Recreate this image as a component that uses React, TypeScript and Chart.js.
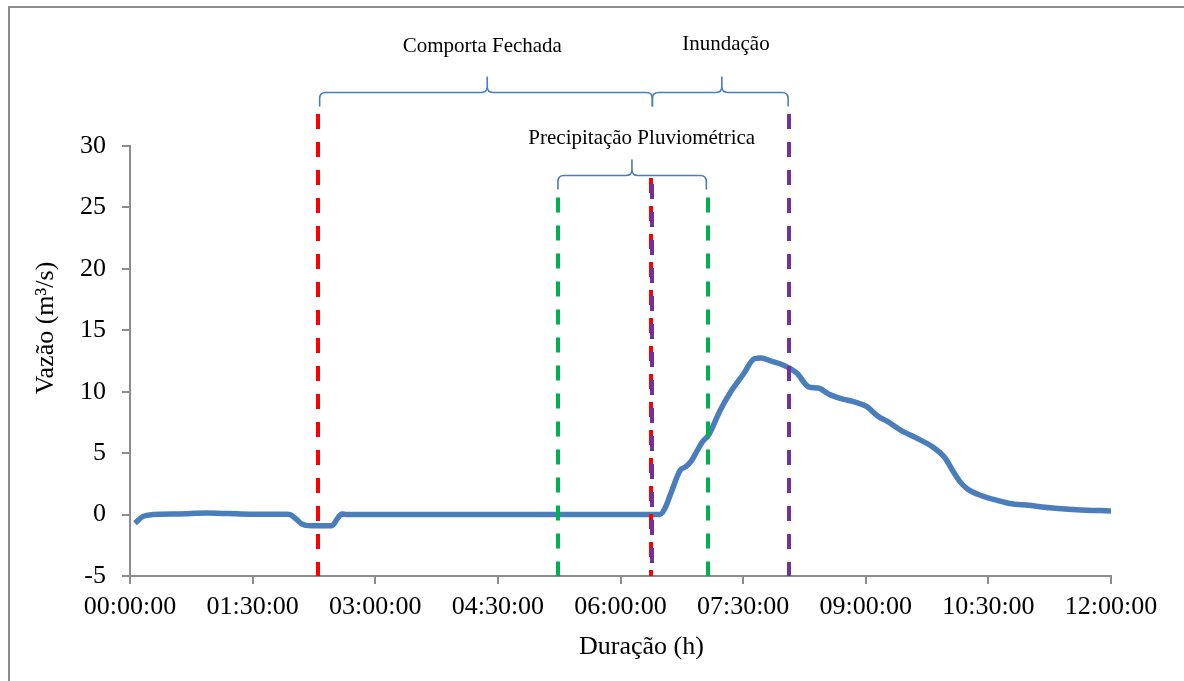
import { useEffect, useRef } from 'react';
import { Chart, registerables } from 'chart.js';

Chart.register(...registerables);

const W = 1184;
const H = 681;

// Time in hours since 00:00:00
const timeHours = [
  0.06, 0.16, 0.28, 0.6, 0.94, 1.2, 1.47, 1.92, 1.96, 2.03, 2.1, 2.18, 2.3, 2.4, 2.47, 2.53, 2.59, 2.66,
  3.5, 4.5, 5.5, 6.2, 6.48, 6.55, 6.62, 6.73, 6.8, 6.86, 6.93, 7.0, 7.08, 7.22, 7.34, 7.5, 7.64, 7.72,
  7.84, 7.98, 8.07, 8.16, 8.3, 8.42, 8.55, 8.72, 8.85, 9.01, 9.15, 9.26, 9.42, 9.66, 9.82, 9.97, 10.07,
  10.15, 10.24, 10.43, 10.64, 10.76, 11.0, 11.25, 11.58, 12.0,
];
// Vazão (m³/s)
const flowValues = [
  -0.7, -0.15, 0.0, 0.05, 0.12, 0.08, 0.03, 0.03, 0.0, -0.35, -0.75, -0.9, -0.92, -0.9, -0.9, -0.4, 0.05, 0.0,
  0.0, 0.0, 0.0, 0.0, 0.0, 0.6, 1.8, 3.6, 3.9, 4.3, 5.1, 5.9, 6.5, 8.5, 9.9, 11.4, 12.7, 12.75,
  12.5, 12.2, 11.9, 11.5, 10.4, 10.3, 9.8, 9.4, 9.2, 8.8, 8.0, 7.6, 6.9, 6.1, 5.5, 4.6, 3.5,
  2.7, 2.1, 1.5, 1.1, 0.9, 0.75, 0.55, 0.4, 0.3,
];

const xMin = 0;
const xMax = 12;
const xStep = 1.5;
const yMin = -5;
const yMax = 30;
const yStep = 5;

// Event markers (vertical dashed lines)
const markerTimes = [2.3, 6.373, 5.235, 7.07, 6.385, 8.06];
const markerTops = [32.6, 27.4, 25.8, 25.8, 26.9, 32.6];
const markerColors = ['#ff0000', '#ff0000', '#00b050', '#00b050', '#7030a0', '#7030a0'];

// Braces
const braceStarts = [2.32, 6.39, 5.235];
const braceEnds = [6.39, 8.05, 7.05];
const bracePeaks = [4.37, 7.24, 6.14];
const braceLevels = [34.36, 34.36, 27.6];

// Annotation labels
const annotationTexts = ['Comporta Fechada', 'Inundação', 'Precipitação Pluviométrica'];
const annotationTimes = [4.31, 7.29, 6.26];
const annotationValues = [38.1, 38.27, 30.6];

const yTitle = 'Vazão (m³/s)';
const xTitle = 'Duração (h)';

const FONT = '"Liberation Serif", "Times New Roman", serif';
const AXIS_GRAY = '#8c8c8c';
const LINE_BLUE = '#4a7ebb';

const pad2 = (n: number) => (n < 10 ? '0' + n : '' + n);
const fmtTime = (v: number) => {
  const totalMin = Math.round(v * 60);
  const hh = Math.floor(totalMin / 60);
  const mm = totalMin % 60;
  return `${pad2(hh)}:${pad2(mm)}:00`;
};

const decorPlugin = {
  id: 'decor',
  beforeDraw(chart: any) {
    const ctx = chart.ctx;
    ctx.save();
    ctx.fillStyle = '#ffffff';
    ctx.fillRect(0, 0, chart.width, chart.height);
    ctx.strokeStyle = AXIS_GRAY;
    ctx.lineWidth = 2;
    ctx.beginPath();
    ctx.moveTo(9, chart.height);
    ctx.lineTo(9, 7);
    ctx.lineTo(chart.width, 7);
    ctx.stroke();
    ctx.restore();
  },
  afterDatasetsDraw(chart: any) {
    const ctx = chart.ctx;
    const xs = chart.scales.x;
    const ys = chart.scales.y;
    ctx.save();
    // dashed vertical markers
    ctx.lineWidth = 4;
    ctx.setLineDash([15, 13]);
    for (let i = 0; i < markerTimes.length; i++) {
      const x = Math.round(xs.getPixelForValue(markerTimes[i]));
      ctx.strokeStyle = markerColors[i];
      ctx.beginPath();
      ctx.moveTo(x, ys.getPixelForValue(markerTops[i]));
      ctx.lineTo(x, ys.getPixelForValue(yMin));
      ctx.stroke();
    }
    ctx.setLineDash([]);
    // braces
    ctx.strokeStyle = LINE_BLUE;
    ctx.lineWidth = 1.6;
    const r = 6;
    const hook = 14;
    const tip = 16;
    for (let i = 0; i < braceStarts.length; i++) {
      const x0 = xs.getPixelForValue(braceStarts[i]);
      const x1 = xs.getPixelForValue(braceEnds[i]);
      const xm = xs.getPixelForValue(bracePeaks[i]);
      const yb = ys.getPixelForValue(braceLevels[i]);
      ctx.beginPath();
      ctx.moveTo(x0, yb + hook);
      ctx.lineTo(x0, yb + r);
      ctx.quadraticCurveTo(x0, yb, x0 + r, yb);
      ctx.lineTo(xm - r, yb);
      ctx.quadraticCurveTo(xm, yb, xm, yb - r);
      ctx.lineTo(xm, yb - tip);
      ctx.moveTo(xm, yb - r);
      ctx.quadraticCurveTo(xm, yb, xm + r, yb);
      ctx.lineTo(x1 - r, yb);
      ctx.quadraticCurveTo(x1, yb, x1, yb + r);
      ctx.lineTo(x1, yb + hook);
      ctx.stroke();
    }
    // annotation labels
    ctx.fillStyle = '#000000';
    ctx.font = `21px ${FONT}`;
    ctx.textAlign = 'center';
    ctx.textBaseline = 'middle';
    for (let i = 0; i < annotationTexts.length; i++) {
      ctx.fillText(
        annotationTexts[i],
        xs.getPixelForValue(annotationTimes[i]),
        ys.getPixelForValue(annotationValues[i])
      );
    }
    // axis titles
    const ca = chart.chartArea;
    ctx.font = `26px ${FONT}`;
    ctx.fillText(xTitle, (ca.left + ca.right) / 2 + 21, 647);
    ctx.save();
    ctx.translate(46, (ca.top + ca.bottom) / 2 - 33);
    ctx.rotate(-Math.PI / 2);
    ctx.fillText(yTitle, 0, 0);
    ctx.restore();
    ctx.restore();
  },
};

export default function App() {
  const ref = useRef<HTMLCanvasElement | null>(null);
  useEffect(() => {
    if (!ref.current) return;
    const chart = new Chart(ref.current, {
      type: 'line',
      data: {
        datasets: [
          {
            data: timeHours.map((t, i) => ({ x: t, y: flowValues[i] })),
            borderColor: LINE_BLUE,
            borderWidth: 5.5,
            pointRadius: 0,
            cubicInterpolationMode: 'monotone',
            fill: false,
          },
        ],
      },
      options: {
        responsive: false,
        animation: false,
        events: [],
        layout: { padding: { left: 0, top: 146, right: 73, bottom: 0 } },
        plugins: { legend: { display: false }, tooltip: { enabled: false }, title: { display: false } },
        scales: {
          x: {
            type: 'linear',
            min: xMin,
            max: xMax,
            afterFit: (s: any) => {
              s.height = 105;
            },
            ticks: {
              stepSize: xStep,
              autoSkip: false,
              maxRotation: 0,
              padding: 8,
              color: '#000000',
              font: { family: FONT, size: 26 },
              callback: (v: any) => fmtTime(Number(v)),
            },
            grid: { drawOnChartArea: false, drawTicks: true, tickLength: 8, color: AXIS_GRAY, lineWidth: 2 },
            border: { display: true, color: AXIS_GRAY, width: 2 },
          },
          y: {
            type: 'linear',
            min: yMin,
            max: yMax,
            afterFit: (s: any) => {
              s.width = 130;
            },
            ticks: {
              stepSize: yStep,
              padding: 16,
              color: '#000000',
              font: { family: FONT, size: 26 },
            },
            grid: { drawOnChartArea: false, drawTicks: true, tickLength: 8, color: AXIS_GRAY, lineWidth: 2 },
            border: { display: true, color: AXIS_GRAY, width: 2 },
          },
        },
      },
      plugins: [decorPlugin],
    } as any);
    return () => chart.destroy();
  }, []);
  return (
    <div style={{ position: 'fixed', left: 0, top: 0, width: W, height: H }}>
      <canvas ref={ref} width={W} height={H} style={{ display: 'block', width: W, height: H }} />
    </div>
  );
}
